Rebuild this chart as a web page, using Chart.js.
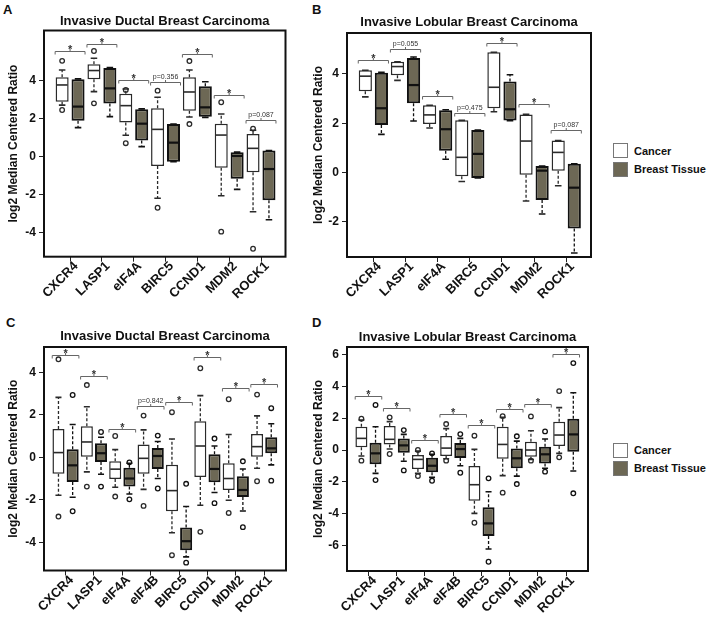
<!DOCTYPE html>
<html>
<head>
<meta charset="utf-8">
<script src="https://cdn.jsdelivr.net/npm/chart.js@4.4.1/dist/chart.umd.min.js"></script>
<style>
  body { margin: 0; background: #fff; width: 708px; height: 617px; position: relative; overflow: hidden;
         font-family: "Liberation Sans", Arial, sans-serif; color: #111; }
  canvas { position: absolute; }
  .letter { position: absolute; font-weight: bold; font-size: 13px; }
  .sw { position: absolute; width: 15px; height: 15px; box-sizing: border-box; border: 1px solid #777; }
  .lt { position: absolute; font-weight: bold; font-size: 11px; line-height: 14px; }
</style>
</head>
<body>
<div class="letter" style="left:3px;top:2px">A</div>
<div class="letter" style="left:312px;top:2px">B</div>
<div class="letter" style="left:6px;top:315px">C</div>
<div class="letter" style="left:312px;top:315px">D</div>

<canvas id="pa" width="300" height="305" style="left:0;top:0"></canvas>
<canvas id="pb" width="300" height="305" style="left:305px;top:0"></canvas>
<canvas id="pc" width="300" height="312" style="left:0;top:305px"></canvas>
<canvas id="pd" width="300" height="312" style="left:305px;top:305px"></canvas>

<div class="sw" style="left:613px;top:143px;background:#fff"></div>
<div class="lt" style="left:634px;top:144px">Cancer</div>
<div class="sw" style="left:613px;top:162px;background:#6d6855"></div>
<div class="lt" style="left:634px;top:162px">Breast Tissue</div>

<div class="sw" style="left:613px;top:443px;background:#fff"></div>
<div class="lt" style="left:634px;top:443px">Cancer</div>
<div class="sw" style="left:613px;top:461px;background:#6d6855"></div>
<div class="lt" style="left:634px;top:461px">Breast Tissue</div>

<script>
const FONT = '"Liberation Sans", Arial, sans-serif';
const TISSUE_COLOR = '#6d6855';

const seriesNames = ['Cancer', 'Breast Tissue'];
const titleIDC = 'Invasive Ductal Breast Carcinoma';
const titleILC = 'Invasive Lobular Breast Carcinoma';
const yTitle = 'log2 Median Centered Ratio';

const catsAB = ['CXCR4', 'LASP1', 'eIF4A', 'BIRC5', 'CCND1', 'MDM2', 'ROCK1'];
const catsCD = ['CXCR4', 'LASP1', 'eIF4A', 'eIF4B', 'BIRC5', 'CCND1', 'MDM2', 'ROCK1'];

const yTicksA = [-4, -2, 0, 2, 4];
const yTicksB = [-2, 0, 2, 4];
const yTicksC = [-4, -2, 0, 2, 4];
const yTicksD = [-6, -4, -2, 0, 2, 4, 6];

// box stats: [lower whisker, q1, median, q3, upper whisker]
// Panel A - ductal
const aCancer = [
  [2.70, 2.88, 3.76, 4.17, 4.55],
  [3.41, 4.06, 4.52, 4.85, 5.17],
  [1.11, 1.78, 2.67, 3.30, 3.55],
  [-2.21, -0.51, 1.42, 2.53, 3.11],
  [2.07, 2.40, 3.39, 4.16, 4.55],
  [-2.08, -0.60, 1.12, 1.72, 2.23],
  [-2.92, -0.84, 0.42, 1.18, 1.37]
];
const aCancerOut = [[5.03, 2.44], [5.55, 2.79], [3.50, 0.69], [3.46, -2.71], [5.02, 1.70], [2.85, -3.97], [1.46, -4.87]];
const aTissue = [
  [1.51, 1.88, 2.62, 4.06, 4.08],
  [2.09, 2.78, 3.58, 4.66, 4.68],
  [0.51, 0.83, 1.72, 2.48, 2.50],
  [-0.28, -0.28, 0.72, 1.70, 1.70],
  [2.05, 2.09, 2.58, 3.69, 3.93],
  [-1.74, -1.18, 0.02, 0.21, 0.22],
  [-3.34, -2.32, -0.67, 0.30, 0.31]
];
const aTissueOut = [[], [], [], [], [], [], []];
const aBrackets = [5.54, 5.94, 4.02, 3.90, 5.39, 3.23, 1.91];
const aBracketText = ['*', '*', '*', 'p=0.356', '*', '*', 'p=0.087'];

// Panel B - lobular
const bCancer = [
  [3.07, 3.30, 3.91, 4.15, 4.15],
  [3.74, 3.95, 4.30, 4.49, 4.49],
  [1.81, 1.97, 2.34, 2.73, 2.73],
  [-0.36, -0.15, 0.62, 2.12, 2.12],
  [2.47, 2.61, 3.46, 4.88, 4.88],
  [-1.15, -0.09, 1.28, 2.36, 2.36],
  [-0.53, 0.08, 0.82, 1.30, 1.30]
];
const bCancerOut = [[], [], [], [], [], [], []];
const bTissue = [
  [1.55, 1.93, 2.61, 4.05, 4.07],
  [2.09, 2.81, 3.55, 4.65, 4.69],
  [0.54, 0.89, 1.76, 2.53, 2.55],
  [-0.22, -0.22, 0.76, 1.73, 1.73],
  [2.11, 2.11, 2.57, 3.69, 3.97],
  [-1.68, -1.11, 0.08, 0.27, 0.27],
  [-3.26, -2.26, -0.61, 0.36, 0.36]
];
const bTissueOut = [[], [], [], [], [], [], []];
const bBrackets = [4.58, 5.00, 3.09, 2.43, 5.26, 2.78, 1.74];
const bBracketText = ['*', 'p=0.055', '*', 'p=0.475', '*', '*', 'p=0.087'];

// Panel C - ductal
const cCancer = [
  [-1.79, -0.78, 0.22, 1.33, 2.82],
  [-0.69, 0.02, 0.72, 1.46, 2.38],
  [-1.41, -1.02, -0.56, -0.19, 0.36],
  [-1.51, -0.78, -0.05, 0.60, 1.29],
  [-3.55, -2.54, -1.57, -0.35, 0.86],
  [-2.26, -0.93, 0.53, 1.69, 2.90],
  [-2.02, -1.54, -1.00, -0.28, 1.07],
  [-0.52, 0.03, 0.50, 1.10, 1.95]
];
const cCancerOut = [[4.61, -2.79], [3.40, -1.38], [1.00, -1.85], [1.96, -2.29], [2.12, -4.61], [4.19, -3.51], [2.73, -2.62], [2.95, -1.13]];
const cTissue = [
  [-1.88, -1.16, -0.38, 0.38, 1.54],
  [-0.80, -0.22, 0.19, 0.66, 0.94],
  [-1.73, -1.38, -1.00, -0.49, -0.28],
  [-1.00, -0.55, 0.06, 0.44, 0.74],
  [-4.69, -4.38, -3.95, -3.31, -2.32],
  [-1.66, -1.18, -0.55, 0.14, 0.53],
  [-2.53, -1.87, -1.54, -0.89, -0.55],
  [-0.36, 0.19, 0.42, 0.94, 1.58]
];
const cTissueOut = [[2.93, -2.54], [1.19, -1.38], [-0.24, -1.98], [1.02, -1.47], [-1.25, -4.96], [0.88, -2.16], [-0.19, -3.29], [2.31, -1.10]];
const cBrackets = [4.82, 3.81, 1.32, 2.43, 2.62, 4.71, 3.28, 3.45];
const cBracketText = ['*', '*', '*', 'p=0.842', '*', '*', '*', '*'];

// Panel D - lobular
const dCancer = [
  [-0.38, 0.17, 0.73, 1.46, 1.88],
  [0.06, 0.35, 0.67, 1.51, 1.78],
  [-1.47, -1.20, -0.59, -0.32, -0.07],
  [-0.55, -0.38, 0.12, 0.88, 1.34],
  [-3.98, -3.18, -2.18, -1.01, 0.04],
  [-1.61, -0.55, 0.35, 1.46, 2.05],
  [-0.60, -0.42, 0.00, 0.52, 1.21],
  [-0.21, 0.25, 0.94, 1.78, 2.66]
];
const dCancerOut = [[1.97, -0.67], [2.05, -0.25], [0.00, -1.64], [1.63, -0.67], [0.90, -4.57], [2.13, -2.68], [2.11, -0.67], [3.70, -0.46]];
const dTissue = [
  [-1.47, -0.90, -0.21, 0.46, 1.46],
  [-0.71, -0.17, 0.29, 0.73, 0.98],
  [-1.72, -1.40, -0.99, -0.48, -0.27],
  [-0.99, -0.50, 0.06, 0.44, 0.73],
  [-6.22, -5.40, -4.61, -3.60, -2.62],
  [-1.64, -1.15, -0.52, 0.10, 0.56],
  [-1.15, -0.84, -0.27, 0.21, 0.69],
  [-1.32, -0.11, 0.98, 1.97, 3.60]
];
const dTissueOut = [[2.83, -1.89], [1.25, -1.28], [-0.21, -1.93], [1.00, -1.43], [-1.78, -7.02], [0.86, -2.14], [1.17, -1.36], [5.46, -2.72]];
const dBrackets = [3.41, 2.66, 0.63, 2.26, 1.57, 2.57, 2.87, 6.01];
const dBracketText = ['*', '*', '*', '*', '*', '*', '*', '*'];

function makePanel(id, p) {
  const canvas = document.getElementById(id);
  const H = canvas.height, W = canvas.width;
  const a = p.area;

  // whiskers, medians, outliers, brackets, frame
  const extras = {
    id: 'extras_' + id,
    afterDatasetsDraw(chart) {
      const ctx = chart.ctx, xs = chart.scales.x, ys = chart.scales.y;
      ctx.save();
      [[p.cancer, p.cancerOut, 0, '#2a2a2a'], [p.tissue, p.tissueOut, 1, '#111']].forEach(([stats, outs, di, col]) => {
        chart.getDatasetMeta(di).data.forEach((bar, i) => {
          const [lo, q1, med, q3, hi] = stats[i];
          const cx = bar.x, w = bar.width;
          ctx.strokeStyle = col;
          ctx.lineWidth = 1.3;
          ctx.setLineDash([3, 2]);
          ctx.beginPath();
          ctx.moveTo(cx, ys.getPixelForValue(q3)); ctx.lineTo(cx, ys.getPixelForValue(hi));
          ctx.moveTo(cx, ys.getPixelForValue(q1)); ctx.lineTo(cx, ys.getPixelForValue(lo));
          ctx.stroke();
          ctx.setLineDash([]);
          ctx.lineWidth = 1.6;
          ctx.beginPath();
          [lo, hi].forEach(v => {
            const y = ys.getPixelForValue(v);
            ctx.moveTo(cx - w / 4, y); ctx.lineTo(cx + w / 4, y);
          });
          ctx.stroke();
          ctx.lineWidth = di ? 2.2 : 1.6;
          ctx.beginPath();
          const ym = ys.getPixelForValue(med);
          ctx.moveTo(cx - w / 2 + 1, ym); ctx.lineTo(cx + w / 2 - 1, ym);
          ctx.stroke();
          ctx.lineWidth = 1.3;
          outs[i].forEach(v => {
            ctx.beginPath();
            ctx.arc(cx, ys.getPixelForValue(v), 2.3, 0, Math.PI * 2);
            ctx.stroke();
          });
        });
      });

      ctx.strokeStyle = '#666';
      ctx.fillStyle = '#333';
      ctx.lineWidth = 1;
      ctx.textAlign = 'center';
      ctx.textBaseline = 'alphabetic';
      p.brackets.forEach((v, i) => {
        const x0 = xs.getPixelForValue(i + 1 - 0.47);
        const x1 = xs.getPixelForValue(i + 1 + 0.47);
        const xm = xs.getPixelForValue(i + 1);
        const y = Math.round(ys.getPixelForValue(v)) + 0.5;
        ctx.beginPath();
        ctx.moveTo(x0, y + 3); ctx.lineTo(x0, y); ctx.lineTo(x1, y); ctx.lineTo(x1, y + 3);
        ctx.moveTo(xm, y); ctx.lineTo(xm, y - 2.5);
        ctx.stroke();
        const txt = p.bracketText[i];
        if (txt === '*') {
          ctx.font = 'bold 11px ' + FONT;
          ctx.fillText(txt, xm, y + 1);
        } else {
          ctx.font = '7px ' + FONT;
          ctx.fillText(txt, xm, y - 4);
        }
      });
      ctx.restore();
    },
    afterDraw(chart) {
      const {left, top, right, bottom} = chart.chartArea;
      const ctx = chart.ctx;
      ctx.save();
      ctx.strokeStyle = '#111';
      ctx.lineWidth = 2;
      ctx.strokeRect(left, top, right - left, bottom - top);
      ctx.restore();
    }
  };

  new Chart(canvas, {
    type: 'bar',
    data: {
      datasets: [
        {
          label: seriesNames[0],
          data: p.cancer.map((s, i) => ({x: i + 1, y: [s[1], s[3]]})),
          backgroundColor: '#ffffff',
          borderColor: '#2a2a2a',
          borderWidth: 1.5,
          borderSkipped: false,
          categoryPercentage: 1,
          barPercentage: p.barPct
        },
        {
          label: seriesNames[1],
          data: p.tissue.map((s, i) => ({x: i + 1, y: [s[1], s[3]]})),
          backgroundColor: TISSUE_COLOR,
          borderColor: '#111',
          borderWidth: 2,
          borderSkipped: false,
          categoryPercentage: 1,
          barPercentage: p.barPct
        }
      ]
    },
    options: {
      responsive: false,
      animation: false,
      events: [],
      layout: { padding: { left: 0, right: W - a.right, top: p.titleY - 7.8, bottom: 0 } },
      plugins: {
        legend: { display: false },
        tooltip: { enabled: false },
        title: {
          display: true,
          text: p.title,
          fullSize: false,
          color: '#111',
          font: { family: FONT, size: 13, weight: 'bold' },
          padding: { top: 0, bottom: a.top - p.titleY - 7.8 }
        }
      },
      scales: {
        x: {
          type: 'linear',
          offset: false,
          min: p.xMin,
          max: p.xMax,
          afterBuildTicks: s => { s.ticks = p.cats.map((c, i) => ({value: i + 1})); },
          afterFit: s => { s.height = H - a.bottom; },
          grid: { offset: false, drawOnChartArea: false, tickLength: 5, tickColor: '#222', lineWidth: 1 },
          border: { display: false },
          ticks: {
            autoSkip: false, minRotation: 45, maxRotation: 45, padding: -3, labelOffset: 6,
            color: '#111', font: { family: FONT, size: 13, weight: 'bold' },
            callback: (v, i) => p.cats[i]
          }
        },
        y: {
          min: p.yMin,
          max: p.yMax,
          afterBuildTicks: s => { s.ticks = p.yTicks.map(v => ({value: v})); },
          afterFit: s => { s.width = a.left; },
          grid: { drawOnChartArea: false, tickLength: 5, tickColor: '#222', lineWidth: 1 },
          border: { display: false },
          ticks: { padding: 3, color: '#111', font: { family: FONT, size: 12, weight: 'bold' } },
          title: {
            display: true, text: yTitle, color: '#111',
            font: { family: FONT, size: 12, weight: 'bold' },
            padding: { top: 6, bottom: 0 }
          }
        }
      }
    },
    plugins: [extras]
  });
}

makePanel('pa', {
  title: titleIDC, cats: catsAB, yTicks: yTicksA,
  cancer: aCancer, cancerOut: aCancerOut, tissue: aTissue, tissueOut: aTissueOut,
  brackets: aBrackets, bracketText: aBracketText,
  yMin: -5.29, yMax: 6.63, xMin: 0.18, xMax: 7.77, barPct: 0.82,
  area: { left: 44, right: 285.5, top: 30.5, bottom: 256.7 }, titleY: 21
});
makePanel('pb', {
  title: titleILC, cats: catsAB, yTicks: yTicksB,
  cancer: bCancer, cancerOut: bCancerOut, tissue: bTissue, tissueOut: bTissueOut,
  brackets: bBrackets, bracketText: bBracketText,
  yMin: -3.42, yMax: 5.66, xMin: 0.18, xMax: 7.77, barPct: 0.82,
  area: { left: 42, right: 286, top: 33, bottom: 257 }, titleY: 22
});
makePanel('pc', {
  title: titleIDC, cats: catsCD, yTicks: yTicksC,
  cancer: cCancer, cancerOut: cCancerOut, tissue: cTissue, tissueOut: cTissueOut,
  brackets: cBrackets, bracketText: cBracketText,
  yMin: -5.33, yMax: 5.19, xMin: 0.24, xMax: 8.77, barPct: 0.85,
  area: { left: 44, right: 286, top: 42, bottom: 265.5 }, titleY: 31
});
makePanel('pd', {
  title: titleILC, cats: catsCD, yTicks: yTicksD,
  cancer: dCancer, cancerOut: dCancerOut, tissue: dTissue, tissueOut: dTissueOut,
  brackets: dBrackets, bracketText: dBracketText,
  yMin: -7.6, yMax: 6.47, xMin: 0.24, xMax: 8.77, barPct: 0.85,
  area: { left: 42, right: 283, top: 42, bottom: 266 }, titleY: 32.5
});
</script>
</body>
</html>
